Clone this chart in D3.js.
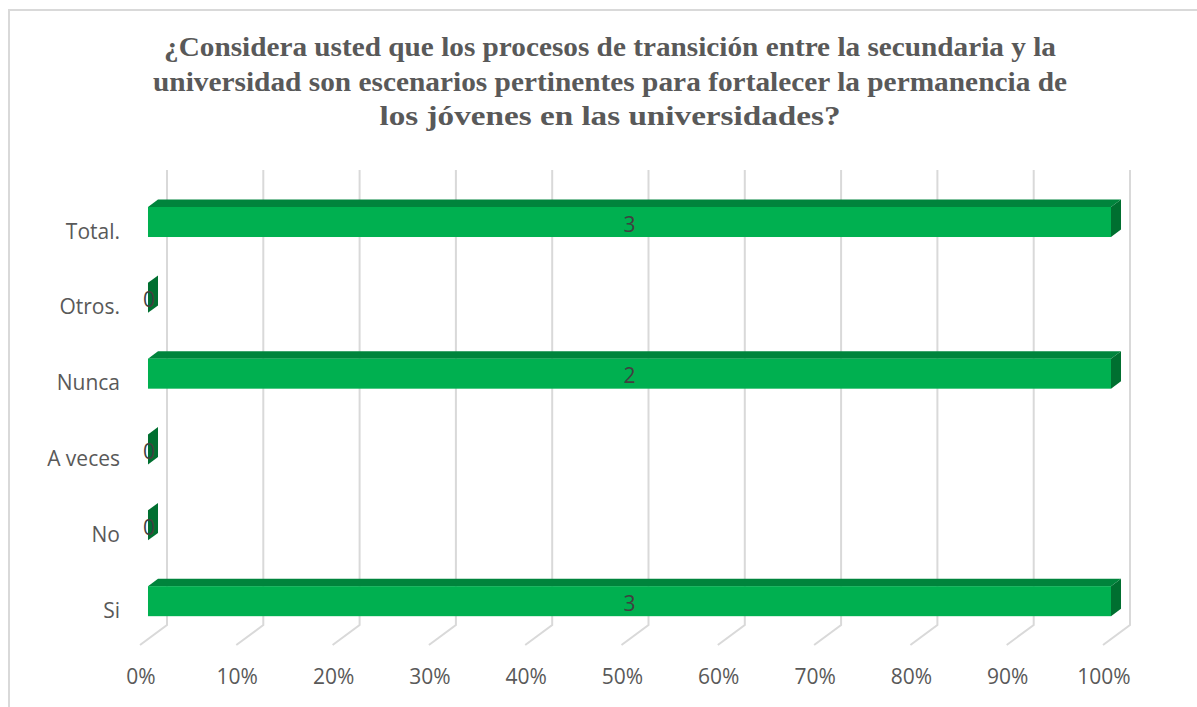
<!DOCTYPE html>
<html>
<head>
<meta charset="utf-8">
<script src="https://cdn.jsdelivr.net/npm/d3@7"></script>
<style>
  body { margin: 0; background: #fff; }
  svg { display: block; }
</style>
</head>
<body>
<div class="chart"></div>
<script>
// data (one series, shown as 100% stacked)
const categories = ["Total.", "Otros.", "Nunca", "A veces", "No", "Si"];
const counts = [3, 0, 2, 0, 0, 3];
const tickValues = [0, 0.1, 0.2, 0.3, 0.4, 0.5, 0.6, 0.7, 0.8, 0.9, 1];
const titleLines = [
    "¿Considera usted que los procesos de transición entre la secundaria y la",
    "universidad son escenarios pertinentes para fortalecer la permanencia de",
    "los jóvenes en las universidades?"
];
const titleWidths = [892, 914, 461];

const width = 1197;
const height = 707;
const svg = d3.select('.chart')
    .append('svg')
    .attr('width', width)
    .attr('height', height)

// frame
svg.append("path")
    .attr("d", "M9,707 V10 H1197")
    .attr("fill", "none")
    .attr("stroke", "#d9d9d9")
    .attr("stroke-width", 2)

// title
svg.append("g")
    .selectAll("text")
    .data(titleLines)
    .enter()
    .append("text")
    .attr("x", 610)
    .attr("y", function(d, i) { return 56 + i * 34.5 })
    .attr("text-anchor", "middle")
    .attr("font-family", "'Liberation Serif', 'Times New Roman', serif")
    .attr("font-weight", "bold")
    .attr("font-size", 27)
    .attr("fill", "#595959")
    .attr("textLength", function(d, i) { return titleWidths[i] })
    .attr("lengthAdjust", "spacingAndGlyphs")
    .text(function(d) { return d })

// back wall scales, plus a depth offset for the 3D look
const x = d3.scaleLinear().domain([0, 1]).range([167, 1130]);
const y = d3.scaleBand().domain(categories).range([170, 625]).paddingInner(0.604).paddingOuter(0.302);
const depthX = -27, depthY = 20;
function px(v, z) { return x(v) + depthX * z }
function py(v, z) { return v + depthY * z }

// 100% stacked share of the single series
const shares = counts.map(function(d) { return d > 0 ? d / d : 0 });
const rows = categories.map(function(c, i) { return { cat: c, count: counts[i], share: shares[i] } });

const grid = svg.append("g")
    .attr("stroke", "#d9d9d9")
    .attr("stroke-width", 2)
    .attr("fill", "none")

grid.selectAll("path")
    .data(tickValues)
    .enter()
    .append("path")
    .attr("d", function(d) {
        return "M" + x(d) + "," + y.range()[0] + " V" + y.range()[1] +
            " L" + px(d, 1) + "," + py(y.range()[1], 1)
    })

// tick labels on the front edge of the floor
svg.append("g")
    .selectAll("text")
    .data(tickValues)
    .enter()
    .append("text")
    .attr("x", function(d) { return px(d, 1) + 1 })
    .attr("y", 684)
    .attr("text-anchor", "middle")
    .attr("font-family", "'Open Sans', sans-serif")
    .attr("font-size", 21)
    .attr("fill", "#595959")
    .text(d3.format(".0%"))

// category labels
svg.append("g")
    .selectAll("text")
    .data(categories)
    .enter()
    .append("text")
    .attr("x", 120)
    .attr("y", function(d) { return py(y(d) + y.bandwidth() / 2, 1) + 5 })
    .attr("text-anchor", "end")
    .attr("dominant-baseline", "middle")
    .attr("font-family", "'Open Sans', sans-serif")
    .attr("font-size", 21)
    .attr("fill", "#595959")
    .text(function(d) { return d })

// bars: the bar sits between these two depths
const zBack = 0.333, zFront = 0.704;
const bars = svg.append("g")
    .selectAll("g")
    .data(rows)
    .enter()
    .append("g")

function poly(pts) { return "M" + pts.map(function(p) { return p.join(",") }).join(" L") + " Z" }

bars.append("path") // right side
    .attr("d", function(d) {
        const t = y(d.cat), b = y(d.cat) + y.bandwidth();
        return poly([[px(d.share, zFront), py(t, zFront)], [px(d.share, zBack), py(t, zBack)],
            [px(d.share, zBack), py(b, zBack)], [px(d.share, zFront), py(b, zFront)]])
    })
    .attr("fill", "#006f30")

bars.append("path") // top
    .attr("d", function(d) {
        const t = y(d.cat);
        return poly([[px(0, zFront), py(t, zFront)], [px(0, zBack), py(t, zBack)],
            [px(d.share, zBack), py(t, zBack)], [px(d.share, zFront), py(t, zFront)]])
    })
    .attr("fill", "#00843c")

bars.append("rect") // front
    .attr("x", function(d) { return px(0, zFront) })
    .attr("y", function(d) { return py(y(d.cat), zFront) })
    .attr("width", function(d) { return px(d.share, zFront) - px(0, zFront) })
    .attr("height", y.bandwidth())
    .attr("fill", "#00b050")

bars.append("text")
    .attr("x", function(d) { return (px(0, zFront) + px(d.share, zFront)) / 2 + (d.share > 0 ? 0 : 1) })
    .attr("y", function(d) { return py(y(d.cat) + y.bandwidth() / 2, zFront) + 4 })
    .attr("text-anchor", "middle")
    .attr("dominant-baseline", "middle")
    .attr("font-family", "'Open Sans', sans-serif")
    .attr("font-size", 21)
    .attr("fill", "#404040")
    .text(function(d) { return d.count })
</script>
</body>
</html>
